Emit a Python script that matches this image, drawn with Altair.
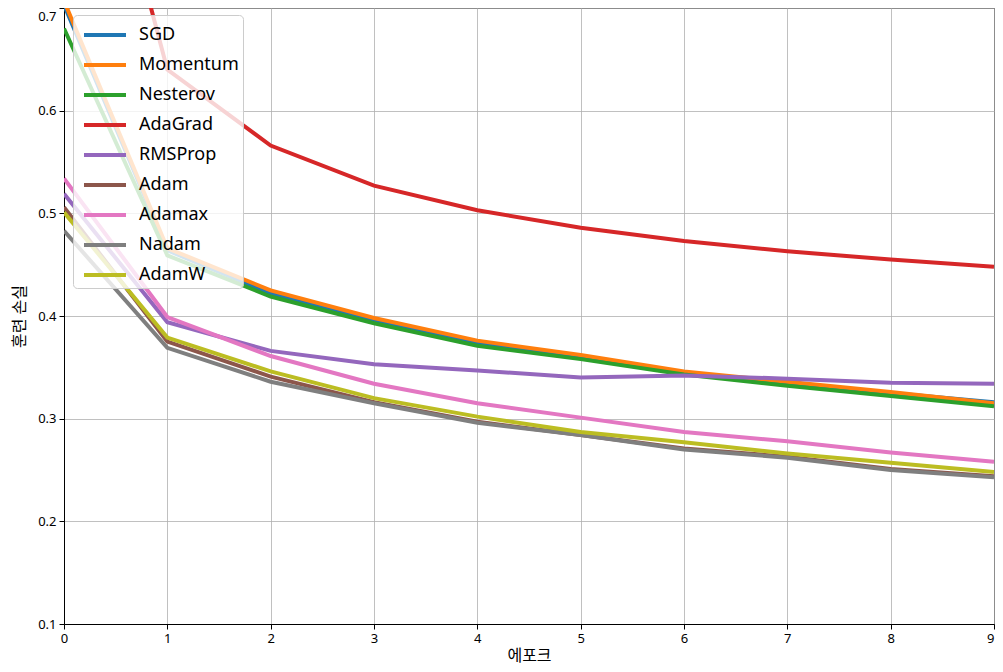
import altair as alt
import pandas as pd

epochs = [0, 1, 2, 3, 4, 5, 6, 7, 8, 9]
optimizers = ["SGD", "Momentum", "Nesterov", "AdaGrad", "RMSProp",
              "Adam", "Adamax", "Nadam", "AdamW"]
colors = ["#1f77b4", "#ff7f0e", "#2ca02c", "#d62728", "#9467bd",
          "#8c564b", "#e377c2", "#7f7f7f", "#bcbd22"]
y_ticks = [0.1, 0.2, 0.3, 0.4, 0.5, 0.6, 0.7]

sgd      = [0.703, 0.464, 0.422, 0.395, 0.373, 0.360, 0.344, 0.334, 0.325, 0.316]
momentum = [0.707, 0.466, 0.425, 0.398, 0.376, 0.362, 0.346, 0.336, 0.326, 0.315]
nesterov = [0.680, 0.459, 0.419, 0.393, 0.371, 0.358, 0.343, 0.332, 0.322, 0.312]
adagrad  = [1.020, 0.640, 0.566, 0.527, 0.503, 0.486, 0.473, 0.463, 0.455, 0.448]
rmsprop  = [0.519, 0.394, 0.366, 0.353, 0.347, 0.340, 0.342, 0.339, 0.335, 0.334]
adam     = [0.506, 0.375, 0.341, 0.316, 0.297, 0.284, 0.271, 0.263, 0.251, 0.244]
adamax   = [0.534, 0.399, 0.361, 0.334, 0.315, 0.301, 0.287, 0.278, 0.267, 0.258]
nadam    = [0.483, 0.369, 0.336, 0.315, 0.296, 0.284, 0.270, 0.262, 0.250, 0.243]
adamw    = [0.501, 0.379, 0.346, 0.320, 0.302, 0.287, 0.277, 0.266, 0.257, 0.248]

series = [sgd, momentum, nesterov, adagrad, rmsprop, adam, adamax, nadam, adamw]

rows = []
for name, vals in zip(optimizers, series):
    for e, v in zip(epochs, vals):
        rows.append({"epoch": e, "loss": v, "optimizer": name})
df = pd.DataFrame(rows)

FONT = "'Noto Sans', 'Noto Sans CJK KR', sans-serif"

chart = alt.Chart(df).mark_line(clip=True, strokeWidth=4).encode(
    x=alt.X("epoch:Q",
            scale=alt.Scale(domain=[0, 9], nice=False, zero=False),
            axis=alt.Axis(title="에포크", values=epochs, format="d",
                          titleX=465, titleY=31, titleBaseline="middle",
                          labelAlign={"condition": {"test": "datum.value == 9", "value": "right"},
                                      "value": "center"})),
    y=alt.Y("loss:Q",
            scale=alt.Scale(domain=[0.1, 0.7], nice=False, zero=False),
            axis=alt.Axis(title="훈련 손실", values=y_ticks,
                          format=".1f", titleX=-45, titleY=308,
                          titleAngle=-90, titleAlign="center",
                          titleBaseline="middle",
                          labelBaseline={"condition": {"test": "datum.value >= 0.69", "value": "top"},
                                         "value": "middle"},
                          labelOffset={"condition": {"test": "datum.value >= 0.69", "value": 2},
                                       "value": 0})),
    color=alt.Color("optimizer:N",
                    scale=alt.Scale(domain=optimizers, range=colors),
                    sort=optimizers,
                    legend=alt.Legend(title=None, orient="none",
                                      legendX=9, legendY=7,
                                      symbolType="M-0.643,0L2.357,0",
                                      symbolSize=784,
                                      symbolStrokeWidth=4,
                                      labelFontSize=18,
                                      labelFont=FONT,
                                      labelOffset=30,
                                      rowPadding=5,
                                      padding=4,
                                      zindex=1,
                                      fillColor="rgba(255,255,255,0.8)",
                                      strokeColor="#cccccc",
                                      cornerRadius=4)),
    order=alt.Order("epoch:Q"),
).properties(
    width=930, height=616,
    autosize=alt.AutoSizeParams(type="none"),
    padding={"left": 56, "top": 0, "right": 1, "bottom": 40},
).configure_view(
    stroke="black", strokeWidth=1
).configure_axis(
    grid=True, gridColor="#b0b0b0", gridWidth=0.8,
    domainColor="black", domainWidth=1,
    tickColor="black", tickSize=5, tickWidth=1,
    labelFont=FONT, labelFontSize=13, labelColor="black", labelPadding=3,
    titleFont=FONT, titleFontSize=16, titleColor="black", titleFontWeight="normal",
)

chart.save("out.html", embed_options={"renderer": "svg", "actions": False})
